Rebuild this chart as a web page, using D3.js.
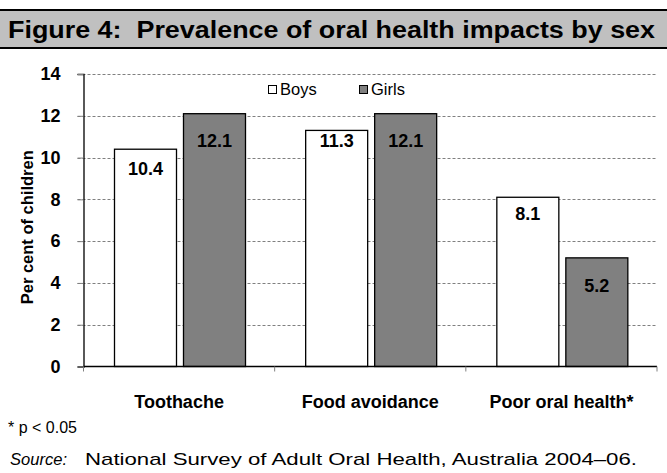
<!DOCTYPE html>
<html><head><meta charset="utf-8">
<script src="https://cdn.jsdelivr.net/npm/d3@7"></script>
<style>
body{margin:0;background:#fff;}
text{font-family:"Liberation Sans",Arial,sans-serif;}
</style></head>
<body>
<svg id="chart" width="667" height="473"></svg>
<script>
const categories = ["Toothache", "Food avoidance", "Poor oral health*"];
const seriesNames = ["Boys", "Girls"];
const boys = [10.4, 11.3, 8.1];
const girls = [12.1, 12.1, 5.2];
const yTicks = [0, 2, 4, 6, 8, 10, 12, 14];
const titleText = "Figure 4:  Prevalence of oral health impacts by sex";
const yLabel = "Per cent of children";
const footnote = "* p < 0.05";
const sourceLabel = "Source:";
const sourceText = "National Survey of Adult Oral Health, Australia 2004–06.";

const svg = d3.select("#chart");
const W = 667, H = 473;
const colors = {Boys: "#ffffff", Girls: "#808080"};

// title band
svg.append("rect").attr("x", -2).attr("y", 10).attr("width", W + 4).attr("height", 38)
  .attr("fill", "#c0c0c0").attr("stroke", "#000").attr("stroke-width", 2);
svg.append("text").attr("x", 8).attr("y", 38).attr("font-size", 23.5).attr("font-weight", "bold")
  .attr("fill", "#000").attr("xml:space", "preserve")
  .attr("textLength", 647).attr("lengthAdjust", "spacingAndGlyphs").text(titleText);

const plot = {left: 83.5, right: 657, top: 74, bottom: 366.5};
const y = d3.scaleLinear().domain([0, 14]).range([plot.bottom, plot.top]);
const x0 = d3.scaleBand().domain(categories).range([plot.left, plot.right]).padding(0);
const x1 = d3.scaleBand().domain(seriesNames).range([31, 162]).paddingInner(0.1014).paddingOuter(0);

// gridlines
svg.append("g").selectAll("line").data(yTicks.filter(d => d > 0)).join("line")
  .attr("x1", plot.left - 6).attr("x2", plot.right)
  .attr("y1", d => Math.round(y(d)) + 0.5).attr("y2", d => Math.round(y(d)) + 0.5)
  .attr("stroke", "#808080").attr("stroke-width", 1).attr("stroke-dasharray", "3,2");

// y axis
const yAxis = svg.append("g").attr("transform", `translate(${plot.left},0)`)
  .call(d3.axisLeft(y).tickValues(yTicks).tickSize(6).tickPadding(17).tickFormat(d3.format("d")));
yAxis.select(".domain").attr("stroke", "#000").attr("stroke-width", 1.3);
yAxis.selectAll(".tick line").attr("stroke", "#808080");
yAxis.selectAll(".tick text").attr("font-size", 18).attr("font-weight", "bold").attr("fill", "#000")
  .attr("font-family", "Liberation Sans, Arial, sans-serif");

svg.append("text").attr("transform", `translate(33,${(plot.top + plot.bottom) / 2 + 7}) rotate(-90)`)
  .attr("text-anchor", "middle").attr("font-size", 16.5).attr("font-weight", "bold").text(yLabel);

// bars
const rows = categories.map((c, i) => ({cat: c, vals: [{s: "Boys", v: boys[i]}, {s: "Girls", v: girls[i]}]}));
const groups = svg.append("g").selectAll("g").data(rows).join("g")
  .attr("transform", d => `translate(${x0(d.cat)},0)`);
groups.selectAll("rect").data(d => d.vals).join("rect")
  .attr("x", d => x1(d.s)).attr("width", x1.bandwidth())
  .attr("y", d => y(d.v)).attr("height", d => y(0) - y(d.v))
  .attr("fill", d => colors[d.s]).attr("stroke", "#000").attr("stroke-width", 1.3);

// value labels (manual placement offsets as in the reference)
const labelDy = {"Toothache": [26, 33], "Food avoidance": [17, 33], "Poor oral health*": [23, 34]};
groups.selectAll("text.val").data(d => d.vals.map((v, j) => ({...v, dy: labelDy[d.cat][j]}))).join("text")
  .attr("class", "val")
  .attr("x", d => x1(d.s) + x1.bandwidth() / 2).attr("y", d => y(d.v) + d.dy)
  .attr("text-anchor", "middle").attr("font-size", 18).attr("font-weight", "bold").attr("fill", "#000")
  .text(d => d3.format(".1f")(d.v));

// x axis
const xAxis = svg.append("g").attr("transform", `translate(0,${plot.bottom})`);
xAxis.append("line").attr("x1", plot.left).attr("x2", plot.right).attr("y1", 0).attr("y2", 0)
  .attr("stroke", "#000").attr("stroke-width", 1.3);
const bounds = [...categories.map(c => x0(c)), plot.right];
xAxis.selectAll("line.t").data(bounds).join("line").attr("class", "t")
  .attr("x1", d => d).attr("x2", d => d).attr("y1", 0).attr("y2", 5)
  .attr("stroke", "#808080");
xAxis.selectAll("text").data(categories).join("text")
  .attr("x", d => x0(d) + x0.bandwidth() / 2).attr("y", 41)
  .attr("text-anchor", "middle").attr("font-size", 18).attr("font-weight", "bold").text(d => d);

// legend
const leg = svg.append("g");
const legX = [268, 359];
seriesNames.forEach((s, i) => {
  leg.append("rect").attr("x", legX[i] + 0.5).attr("y", 85.5).attr("width", 8).attr("height", 8)
    .attr("fill", colors[s]).attr("stroke", "#000").attr("stroke-width", 1);
  leg.append("text").attr("x", legX[i] + 12).attr("y", 94.5).attr("font-size", 16.5).text(s);
});

// footnotes
svg.append("text").attr("x", 8).attr("y", 433).attr("font-size", 16).text(footnote);
svg.append("text").attr("x", 10).attr("y", 465).attr("font-size", 17).attr("font-style", "italic")
  .attr("textLength", 57).attr("lengthAdjust", "spacingAndGlyphs").text(sourceLabel);
svg.append("text").attr("x", 85).attr("y", 465).attr("font-size", 17)
  .attr("textLength", 552).attr("lengthAdjust", "spacingAndGlyphs").text(sourceText);
</script>
</body></html>
